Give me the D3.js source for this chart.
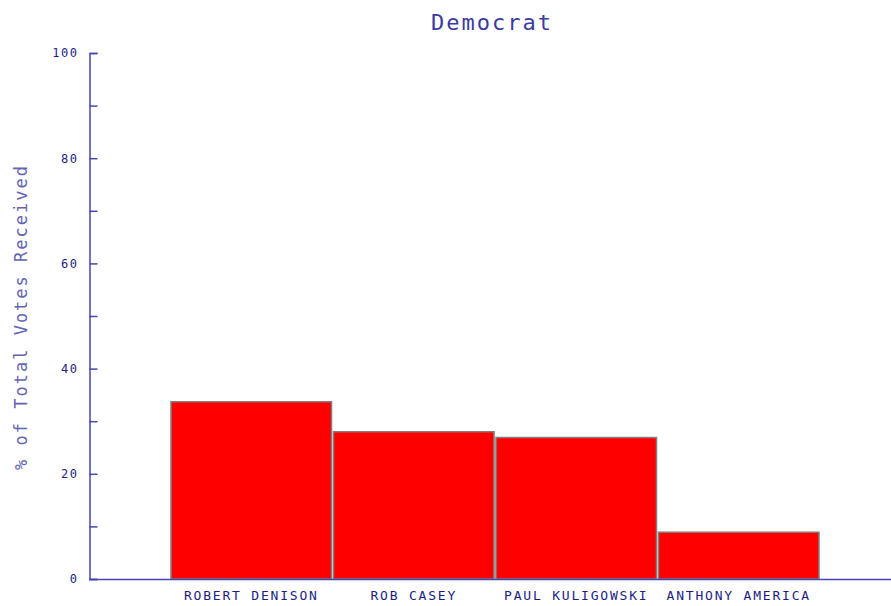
<!DOCTYPE html>
<html>
<head>
<meta charset="utf-8">
<title>Democrat</title>
<script src="https://d3js.org/d3.v7.min.js"></script>
<style>
  body { margin: 0; background: #fff; }
  svg text { font-family: "DejaVu Sans Mono", "Liberation Mono", monospace; }
</style>
</head>
<body>
<svg id="chart" width="891" height="606"></svg>
<script>
const candidates = ["ROBERT DENISON", "ROB CASEY", "PAUL KULIGOWSKI", "ANTHONY AMERICA"];
const votePct = [33.7, 28.0, 26.9, 8.9];
const yTicks = [0, 20, 40, 60, 80, 100];
const yMinorTicks = [10, 30, 50, 70, 90];

const data = candidates.map((name, i) => ({ name, value: votePct[i] }));

const svg = d3.select("#chart");
const axisColor = "#4646b0";
const textColor = "#1c1c84";

const y = d3.scaleLinear().domain([0, 100]).range([579, 53]);
const x = d3.scaleBand().domain(candidates).range([171, 819]).paddingInner(0.012).paddingOuter(0);

// title
svg.append("text")
  .attr("x", 492).attr("y", 30)
  .attr("text-anchor", "middle")
  .attr("font-size", 22).attr("letter-spacing", 2)
  .attr("fill", "#3a3aa0")
  .text("Democrat");

// y axis title
svg.append("text")
  .attr("transform", "translate(27,317) rotate(-90)")
  .attr("text-anchor", "middle")
  .attr("font-size", 17).attr("letter-spacing", 2)
  .attr("fill", "#6464b4")
  .text("% of Total Votes Received");

// bars
svg.append("g").selectAll("rect")
  .data(data)
  .enter()
  .append("rect")
  .attr("x", d => x(d.name))
  .attr("y", d => y(d.value))
  .attr("width", x.bandwidth())
  .attr("height", d => y(0) - y(d.value))
  .attr("fill", "#fe0000")
  .attr("stroke", "#808080")
  .attr("stroke-width", 1.5);

// y axis
const yAxis = d3.axisRight(y)
  .tickValues(yTicks.concat(yMinorTicks))
  .tickSize(8)
  .tickFormat(d => yTicks.includes(d) ? d : "");

const yG = svg.append("g").attr("transform", "translate(89.5,0)").call(yAxis);
yG.select(".domain").attr("stroke", axisColor).attr("stroke-width", 1.5);
yG.selectAll(".tick line").attr("stroke", axisColor).attr("stroke-width", 1.5);
yG.selectAll(".tick text")
  .attr("x", -11)
  .attr("text-anchor", "end")
  .attr("font-size", 12).attr("letter-spacing", 1.5)
  .attr("fill", textColor)
  .style("font-family", "DejaVu Sans Mono");

// x axis baseline
svg.append("line")
  .attr("x1", 89).attr("x2", 891)
  .attr("y1", y(0) + 0.5).attr("y2", y(0) + 0.5)
  .attr("stroke", axisColor).attr("stroke-width", 1.5);

// category labels
svg.append("g").selectAll("text")
  .data(data)
  .enter()
  .append("text")
  .attr("x", d => x(d.name) + x.bandwidth() / 2)
  .attr("y", 600)
  .attr("text-anchor", "middle")
  .attr("font-size", 13).attr("letter-spacing", 1.8)
  .attr("fill", textColor)
  .text(d => d.name);
</script>
</body>
</html>
